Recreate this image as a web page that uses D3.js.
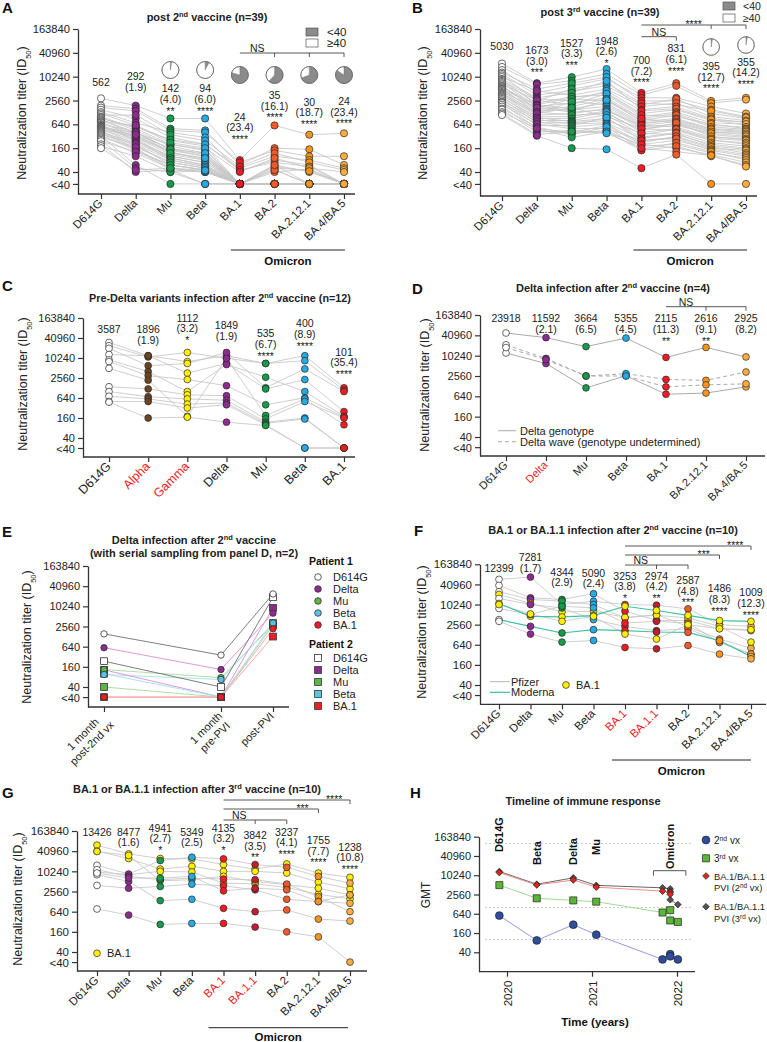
<!DOCTYPE html>
<html><head><meta charset="utf-8">
<script src="https://cdn.jsdelivr.net/npm/d3@7/dist/d3.min.js"></script>
<style>html,body{margin:0;padding:0;background:#fff;}</style>
</head><body>
<script>
// ======================= DATA =======================
const LOD = 20;   // "<40" (below detection) plotted at this level
const L = LOD;

// ---- A: post 2nd vaccine (n=39) ----
const aCats = ['D614G','Delta','Mu','Beta','BA.1','BA.2','BA.2.12.1','BA.4/BA.5'];
const aD614G = [2900,1900,1700,1500,1300,1200,1100,1000,950,900,850,800,760,720,700,650,620,600,580,560,540,520,500,480,460,440,420,400,380,360,340,320,300,280,260,240,200,180,160];
const aDelta = [1900,1600,1400,900,700,600,1100,500,450,550,400,380,600,300,350,420,250,320,280,300,260,400,200,240,350,180,160,220,150,200,140,60,170,120,50,130,40,100,45];
const aMu = [900,500,450,300,400,250,350,200,180,260,150,200,220,130,160,120,100,140,90,110,80,150,60,100,120,70,50,90,45,80,60,L,70,50,40,60,45,40,50];
const aBeta = [900,450,400,200,300,180,250,150,120,200,100,140,160,80,110,90,70,100,60,80,55,120,45,70,90,50,40,60,L,55,45,L,50,40,L,45,40,42,44];
const aBA1 = [80,60,70,50,42,L,55,L,L,45,L,L,40,L,L,L,L,L,L,L,L,L,L,L,L,L,L,L,L,L,L,L,L,L,L,L,L,L,L];
const aBA2 = [600,160,140,100,80,60,120,50,45,70,40,L,90,L,L,55,L,L,45,L,L,60,L,L,L,L,L,L,L,L,L,L,L,L,L,L,L,L,L];
const aBA2121 = [350,150,100,80,60,40,70,45,L,55,48,L,50,L,L,42,L,L,L,L,L,L,L,L,L,L,L,L,L,L,L,L,L,L,L,L,L,L,L];
const aBA45 = [380,60,100,50,L,L,45,L,L,L,L,L,40,L,L,L,L,L,L,L,L,L,L,L,L,L,L,L,L,L,L,L,L,L,L,L,L,L,L];
const aGMT = [562,292,142,94,24,35,30,24];
const aFold = ['','1.9','4.0','6.0','23.4','16.1','18.7','23.4'];
const aStars = ['','','**','****','****','****','****','****'];

// ---- B: post 3rd vaccine (n=39) ----
const bCats = aCats;
const bD614G = [22000,18000,15000,13000,12000,11000,10000,9000,8500,8000,7500,7000,6500,6000,5800,5500,5200,5000,4800,4500,4200,4000,3800,3600,3400,3200,3000,2800,2600,2400,2300,2200,2000,1800,1600,1500,1300,1200,1100];
const bDelta = [7000,6500,4000,5000,3500,2500,4500,3000,2000,2800,2200,1800,2600,1600,1500,2000,1200,1900,1400,1100,1700,1000,1300,900,1200,800,950,700,850,600,750,500,650,450,550,400,500,350,330];
const bMu = [10000,8000,6000,7000,4500,5000,3500,4000,3000,2500,3200,2200,2000,2800,1800,1600,2400,1400,1500,1200,1300,1000,1100,900,1700,800,750,700,650,600,550,400,500,380,350,450,300,420,160];
const bBeta = [16000,12000,9000,10000,6000,7000,5000,8000,4000,4500,3500,3000,3800,2500,2800,2200,2000,2600,1800,1600,1500,1400,1200,1300,1000,1100,900,800,700,950,650,600,500,450,550,400,420,380,150];
const bBA1 = [4000,3500,3000,2500,2000,2200,1800,1500,1200,1400,1000,900,1100,800,750,700,650,900,600,550,500,600,450,400,500,350,300,380,280,250,220,200,250,180,150,200,140,160,50];
const bBA2 = [7000,6000,3000,2500,2800,2000,2200,1800,1500,1600,1300,1200,1000,1100,900,800,850,700,750,650,600,550,700,500,450,480,400,350,380,300,320,250,280,200,220,160,180,130,110];
const bBA2121 = [2500,2200,1800,1500,1200,1400,1000,900,800,850,700,600,650,550,500,450,480,400,420,350,380,300,320,280,250,260,220,200,180,160,170,150,140,120,130,110,100,105,L];
const bBA45 = [3000,2700,1200,1000,900,950,800,700,750,600,650,550,500,480,450,400,420,380,350,300,320,280,260,250,220,200,180,160,150,140,120,110,100,90,80,70,60,55,L];
const bGMT = [5030,1673,1527,1948,700,831,395,355];
const bFold = ['','3.0','3.3','2.6','7.2','6.1','12.7','14.2'];
const bStars = ['','***','***','*','****','****','****','****'];

// ---- C: Pre-Delta variants infection after 2nd vaccine (n=12) ----
const cCats = ['D614G','Alpha','Gamma','Delta','Mu','Beta','BA.1'];
const cD614G = [30000,24000,20000,13000,9000,8000,5000,1400,1000,720,500,480];
const cAlpha = [12000,11000,6000,12000,4000,3000,2200,1200,700,600,500,160];
const cGamma = [8000,15000,7000,3600,1000,2300,180,800,600,420,320,170];
const cDelta = [12000,10000,15000,7000,6500,1500,10000,750,550,450,400,120];
const cMu = [7000,7000,1300,1200,2700,400,190,150,120,110,100,95];
const cBeta = [12000,8500,4800,2300,1000,650,600,500,160,150,L,L];
const cBA1 = [1300,1100,1000,250,180,170,100,160,L,L,L,L];
const cGMT = [3587,1896,1112,1849,535,400,101];
const cFold = ['','1.9','3.2','1.9','6.7','8.9','35.4'];
const cStars = ['','','*','','****','****','****'];

// ---- D: Delta infection after 2nd vaccine (n=4) ----
const dCats = ['D614G','Delta','Mu','Beta','BA.1','BA.2.12.1','BA.4/BA.5'];
const dD614G = [48000,12300,21400,17800];
const dDelta = [35000,6000,8500,7800];
const dMu = [19000,1140,2560,2560];
const dBeta = [34000,2600,3000,2560];
const dBA1 = [9100,740,2030,1220];
const dBA2121 = [18000,800,1900,1400];
const dBA45 = [9400,1220,3360,1500];
const dGroup = ['genotype','genotype','wave','wave'];
const dGMT = [23918,11592,3664,5355,2115,2616,2925];
const dFold = ['','2.1','6.5','4.5','11.3','9.1','8.2'];
const dStars = ['','','','','**','**',''];

// ---- E: serial sampling (n=2) ----
const eLabels = [['1 month','post-2nd vx'],['1 month','pre-PVI'],['post-PVI']];
const eTime = [0, 9, 13];
const eVariants = ['D614G','Delta','Mu','Beta','BA.1'];
const e1D614G = [1540,358,24000], e1Delta = [597,133,6400], e1Mu = [133,76,2860], e1Beta = [94,67,3250], e1BA1 = [L,L,2180];
const e2D614G = [236,40,19100], e2Delta = [130,L,9160], e2Mu = [40,L,2800], e2Beta = [100,L,3250], e2BA1 = [L,L,1280];

// ---- F: BA.1 or BA.1.1 infection after 2nd vaccine (n=10) ----
const fCats = ['D614G','Delta','Mu','Beta','BA.1','BA.1.1','BA.2','BA.2.12.1','BA.4/BA.5'];
const fD614G = [57900,38200,24700,20480,15500,11000,7800,3620,3220,10240];
const fDelta = [68000,16300,14500,11000,10240,4550,5120,2280,1340,5350];
const fMu = [10240,14500,12900,6150,8100,4350,9100,1440,770,3220];
const fBeta = [12900,21500,10240,6450,3620,4780,8100,1810,860,4550];
const fBA1 = [10240,6450,4060,4250,2280,9100,2870,1690,530,1340];
const fBA11 = [9800,3450,5120,4880,1690,6800,3220,1540,485,950];
const fBA2 = [7600,3380,2230,4060,1940,4880,2870,1500,610,2560];
const fBA2121 = [2560,1940,950,2280,806,3380,750,845,336,1940];
const fBA45 = [2280,1690,508,770,336,3220,336,285,243,1810];
const fVaccine = ['Pfizer','Pfizer','Pfizer','Pfizer','Pfizer','Moderna','Pfizer','Moderna','Pfizer','Pfizer'];
const fInfection = ['BA.1.1','BA.1.1','BA.1.1','BA.1','BA.1.1','BA.1','BA.1.1','BA.1.1','BA.1.1','BA.1'];
const fGMT = [12399,7281,4344,5090,3253,2974,2587,1486,1009];
const fFold = ['','1.7','2.9','2.4','3.8','4.2','4.8','8.3','12.3'];
const fStars = ['','','','','*','**','***','****','****'];

// ---- G: BA.1 or BA.1.1 infection after 3rd vaccine (n=10) ----
const gCats = fCats;
const gD614G = [62000,40960,9800,40000,15500,11500,3880,770,8100,9100];
const gDelta = [34000,24700,8100,30400,8500,7240,3220,508,5120,6450];
const gMu = [24700,12000,10240,5350,21500,5750,3620,266,1370,6450];
const gBeta = [24100,14500,9800,5750,27000,6450,4250,285,1500,7240];
const gBA1 = [16300,10240,4550,7240,24100,6000,3800,285,806,2680];
const gBA11 = [12000,10240,4350,5120,16300,5750,2870,222,640,3220];
const gBA2 = [17000,9100,3380,4060,13500,4250,1500,160,720,2870];
const gBA2121 = [9100,4880,2120,3220,7240,1810,1280,113,385,1280];
const gBA45 = [6800,3080,1540,2030,4550,640,2030,L,336,1140];
const gInfection = ['BA.1','BA.1','BA.1','BA.1','BA.1.1','BA.1.1','BA.1.1','BA.1.1','BA.1.1','BA.1.1'];
const gGMT = [13426,8477,4941,5349,4135,3842,3237,1755,1238];
const gFold = ['','1.6','2.7','2.5','3.2','3.5','4.1','7.7','10.8'];
const gStars = ['','','*','','*','**','****','****','****'];

// ---- H: timeline (GMTs of panels A, B, F, G placed at variant emergence dates) ----
const hVariants = ['D614G','Beta','Delta','Mu','BA.1','BA.1.1','BA.2','BA.2.12.1','BA.4/BA.5'];
const hDates = [2019.91,2020.35,2020.78,2021.05,2021.83,2021.92,2021.92,2021.92,2022.01];
const hRedShown = ['D614G','Beta','Delta','Mu','BA.1','BA.1.1','BA.2'];
const hYears = [2020,2021,2022];
const hGrid = [100,1000,100000];
const hLabelText = ['D614G','Beta','Delta','Mu','Omicron'];
const hLabelVariant = ['D614G','Beta','Delta','Mu','BA.2'];

// ======================= STYLE / LAYOUT =======================
const FONT = "'Liberation Sans', Arial, Helvetica, sans-serif";
const colorMap = {'D614G':'#ffffff','Alpha':'#6e4522','Gamma':'#fff000','Delta':'#8e2b8f','Mu':'#179a4b','Beta':'#27a9e1',
  'BA.1':'#ee1d23','BA.1.1':'#c01f2f','BA.2':'#f15a29','BA.2.12.1':'#f7941d','BA.4/BA.5':'#fbad3f'};
const YELLOW = '#ffef00';
const RED_LABEL = '#ee1d23';
const ticksAll = [163840,40960,10240,2560,640,160,40,LOD];

const layA = {yAxisX:78, xEnd:355, top:29, y40:172, bottom:194, xFirst:101, xLast:344, tickFs:11.2, xFs:11.5, r:3.6,
  labelY:[81.7,76,88.3,88.3,116.7,95,101.7,101], pieY:[70,70,70,70,75,75,75,75], pieR:8.5,
  title:[207,21], letter:[2,13], yTitle:[22,113], omi:{y:250,padL:9,padR:1,textY:265}};
const layB = {yAxisX:480, xEnd:757, top:29, y40:172, bottom:196, xFirst:502, xLast:746, tickFs:11.2, xFs:11.5, r:3.6,
  labelY:[45.7,50,42.7,40.7,60,48.3,66,61.7], pieY:[45,45,45,45,45,45,47,45], pieR:8.3,
  title:[600,16], letter:[412,13], yTitle:[423,113], omi:{y:250,padL:8,padR:1,textY:265}};
const layC = {yAxisX:83, xEnd:355, top:318, y40:438, bottom:457, xFirst:109, xLast:344, tickFs:11, xFs:12.5, r:3.4,
  labelY:[329.3,329.3,317.7,325,333.3,323.3,351.7], title:[220,302], letter:[2,291], yTitle:[23,384]};
const layD = {yAxisX:480, xEnd:765, top:315, y40:437, bottom:456, xFirst:506, xLast:746, tickFs:11, xFs:11, r:3.4,
  labelY:[318.3,318.3,318.3,318.3,318.3,318.3,318.3], title:[613,292], letter:[412,294], yTitle:[425,385]};
const layE = {yAxisX:88, xEnd:289, top:566, y40:687, bottom:707, xFirst:104, xLast:273, tickFs:11, xFs:11, r:3.2,
  title:[194,544], letter:[2,537], yTitle:[27,637]};
const layF = {yAxisX:480, xEnd:766, top:564.3, y40:685, bottom:704.3, xFirst:499, xLast:751, tickFs:11.5, xFs:11.5, r:3.4,
  labelY:[568.3,557.3,571.7,572.7,575.7,575.7,580,588.3,592.3], title:[613,534], letter:[414,536], yTitle:[422,632],
  omi:{y:760,padL:13,padR:0,textY:775}};
const layG = {yAxisX:77, xEnd:367, top:831, y40:952, bottom:971, xFirst:97, xLast:350, tickFs:11.5, xFs:11.5, r:3.4,
  labelY:[831.7,831.7,827.7,831.7,827.7,835,831.7,840,846.7], title:[197,793], letter:[2,798], yTitle:[18,899],
  omi:{y:1027.7,padL:15,padR:-2,textY:1041}};
const layH = {yAxisX:479, xEnd:695, top:836.7, y40:952.3, bottom:971.7, x2020:507, x2022:677, gridX1:485, gridX2:693,
  title:[583,805], letter:[410,798], labelBottom:[852,865,865,855,869], legFs:9.4};

// ======================= HELPERS =======================
const svg = d3.select('body').append('svg').attr('width',767).attr('height',1042)
  .attr('font-family',FONT).style('background','#fff');

function yScaleFor(Lo){
  const s = d3.scaleLog().domain([40,163840]).range([Lo.y40,Lo.top]);
  return d3.scaleLog().domain([s.invert(Lo.bottom),163840]).range([Lo.bottom,Lo.top]);
}
function drawYAxis(g,y,x0,ticks,fs){
  const a = g.append('g').attr('transform',`translate(${x0},0)`)
    .call(d3.axisLeft(y).tickValues(ticks).tickFormat(d=>d===LOD?'<40':String(d)).tickSize(5).tickSizeOuter(0).tickPadding(3));
  a.attr('font-family',FONT).attr('font-size',fs);
  a.select('.domain').attr('stroke','#333').attr('stroke-width',1.3);
  a.selectAll('.tick line').attr('stroke','#333').attr('stroke-width',1.2);
  a.selectAll('.tick text').attr('fill','#222');
  a.selectAll('.tick text').filter(d=>d===LOD).attr('transform','translate(0,1.2)');
  return a;
}
function richText(g,x,y,parts,fs,bold,anchor){
  const t = g.append('text').attr('x',x).attr('y',y).attr('text-anchor',anchor||'middle')
    .attr('font-size',fs).attr('font-weight',bold?'bold':null).attr('fill','#222');
  parts.forEach(p=>{
    const ts = t.append('tspan').text(p[0]);
    if(p[1]==='sup') ts.attr('baseline-shift','super').attr('font-size',fs*0.68);
    if(p[1]==='sub') ts.attr('baseline-shift','sub').attr('font-size',fs*0.62);
  });
  return t;
}
function yTitle(g,pos,label,fs){
  const t = g.append('text').attr('transform',`translate(${pos[0]},${pos[1]}) rotate(-90)`)
    .attr('text-anchor','middle').attr('dy','0.35em').attr('font-size',fs).attr('fill','#222');
  if(label){ t.text(label); return; }
  t.append('tspan').text('Neutralization titer (ID');
  t.append('tspan').attr('baseline-shift','sub').attr('font-size',fs*0.6).text('50');
  t.append('tspan').text(')');
}
function letter(g,pos,s){
  g.append('text').attr('x',pos[0]).attr('y',pos[1]).attr('font-size',15).attr('font-weight','bold').attr('fill','#111').text(s);
}
function colLabels(g,x,cats,gmt,fold,stars,labelY){
  cats.forEach((c,i)=>{
    const cx = x(c), b = labelY[i]+3.8, lh = 10.8;
    const t = (yy,s)=>g.append('text').attr('x',cx).attr('y',yy).attr('text-anchor','middle')
      .attr('font-size',10.5).attr('fill','#222').text(s);
    t(b,String(gmt[i]));
    let k = 1;
    if(fold[i]){ t(b+lh,`(${fold[i]})`); k = 2; }
    if(stars[i]) t(b+k*lh+1,stars[i]);
  });
}
function pies(g,x,cats,cols,pieY,r){
  const arc = d3.arc().innerRadius(0).outerRadius(r);
  cats.forEach((c,j)=>{
    const n40 = cols[j].filter(v=>v===LOD).length;
    if(!n40) return;
    const data = d3.pie().sort(null)([n40, cols[j].length-n40]);
    const pg = g.append('g').attr('transform',`translate(${x(c)},${pieY[j]})`);
    pg.selectAll('path').data(data).join('path').attr('d',arc)
      .attr('fill',(d,i)=>i?'#ffffff':'#8b8b8b').attr('stroke','#777').attr('stroke-width',0.5);
    pg.append('circle').attr('r',r).attr('fill','none').attr('stroke','#666').attr('stroke-width',0.8);
  });
}
function bracket(g,x,from,tos,y,label,between){
  const x1 = x(from), x2 = x(tos[tos.length-1]);
  g.append('line').attr('x1',x1).attr('x2',x2).attr('y1',y).attr('y2',y).attr('stroke','#444').attr('stroke-width',0.9);
  tos.forEach(t=>g.append('line').attr('x1',x(t)).attr('x2',x(t)).attr('y1',y).attr('y2',y+4).attr('stroke','#444').attr('stroke-width',0.9));
  const lx = (x(between[0])+x(between[1]))/2;
  const isStar = label.indexOf('*')===0;
  g.append('text').attr('x',lx).attr('y',isStar?y+3:y-1).attr('text-anchor','middle')
    .attr('font-size',10.5).attr('fill','#222').text(label);
}
function omicron(g,x,Lo,first,last){
  const o = Lo.omi;
  const x1 = x(first)-o.padL, x2 = x(last)+o.padR;
  g.append('line').attr('x1',x1).attr('x2',x2).attr('y1',o.y).attr('y2',o.y).attr('stroke','#222').attr('stroke-width',1);
  g.append('text').attr('x',(x1+x2)/2).attr('y',o.textY).attr('text-anchor','middle').attr('font-size',11.5)
    .attr('font-weight','bold').attr('fill','#111').text('Omicron');
}

function panel(o){
  const g = svg.append('g');
  const Lo = o.layout;
  const y = yScaleFor(Lo);
  const x = d3.scalePoint().domain(o.cats).range([Lo.xFirst,Lo.xLast]);
  const n = o.cols[0].length;
  const rows = d3.range(n).map(i=>o.cols.map(c=>c[i]));
  const line = d3.line().x((d,j)=>x(o.cats[j])).y(d=>y(d));
  const lg = g.append('g');
  const order = o.lineOrder ? o.lineOrder(rows) : d3.range(n);
  order.forEach(i=>{
    lg.append('path').attr('d',line(rows[i])).attr('fill','none')
      .attr('stroke',o.lineColor?o.lineColor(i):'#c6c6c6')
      .attr('stroke-width',o.lineWidth?o.lineWidth(i):0.85)
      .attr('stroke-dasharray',o.lineDash?o.lineDash(i):null);
  });
  drawYAxis(g,y,Lo.yAxisX,ticksAll,Lo.tickFs);
  const xa = g.append('g').attr('transform',`translate(0,${Lo.bottom})`)
    .call(d3.axisBottom(x).tickSize(5).tickSizeOuter(0));
  xa.attr('font-family',FONT);
  xa.select('.domain').remove();
  xa.append('line').attr('x1',Lo.yAxisX).attr('x2',Lo.xEnd).attr('stroke','#333').attr('stroke-width',1.3);
  xa.selectAll('.tick line').attr('stroke','#333').attr('stroke-width',1.2);
  xa.selectAll('.tick text').attr('y',null).attr('dy','0.35em').attr('text-anchor','end')
    .attr('transform','translate(-1,7) rotate(-45)').attr('font-size',Lo.xFs)
    .attr('fill',d=>(o.redCats||[]).includes(d)?RED_LABEL:'#222');
  o.cats.forEach((c,j)=>{
    const dg = g.append('g');
    o.cols[j].forEach((v,i)=>{
      dg.append('circle').attr('cx',x(c)).attr('cy',y(v)).attr('r',Lo.r)
        .attr('fill',o.dotColor?o.dotColor(c,i):colorMap[c]).attr('stroke','#2a2a2a').attr('stroke-width',0.7);
    });
  });
  return {g,x,y};
}

// ======================= PANEL A =======================
const aCols = [aD614G,aDelta,aMu,aBeta,aBA1,aBA2,aBA2121,aBA45];
const A = panel({cats:aCats, cols:aCols, layout:layA});
colLabels(A.g,A.x,aCats,aGMT,aFold,aStars,layA.labelY);
pies(A.g,A.x,aCats,aCols,layA.pieY,layA.pieR);
bracket(A.g,A.x,'BA.1',['BA.2','BA.2.12.1','BA.4/BA.5'],53,'NS',['BA.1','BA.2']);
omicron(A.g,A.x,layA,'BA.1','BA.4/BA.5');
letter(A.g,layA.letter,'A');
richText(A.g,layA.title[0],layA.title[1],[['post 2'],['nd','sup'],[' vaccine (n=39)']],11,true);
yTitle(A.g,layA.yTitle,null,12.5);
A.g.append('rect').attr('x',306).attr('y',28).attr('width',12).attr('height',8).attr('fill','#8b8b8b').attr('stroke','#555').attr('stroke-width',0.7);
A.g.append('rect').attr('x',306).attr('y',39).attr('width',12).attr('height',8).attr('fill','#fff').attr('stroke','#555').attr('stroke-width',0.7);
A.g.append('text').attr('x',327).attr('y',36).attr('font-size',11.5).attr('fill','#222').text('<40');
A.g.append('text').attr('x',327).attr('y',47).attr('font-size',11.5).attr('fill','#222').text('≥40');

// ======================= PANEL B =======================
const bCols = [bD614G,bDelta,bMu,bBeta,bBA1,bBA2,bBA2121,bBA45];
const B = panel({cats:bCats, cols:bCols, layout:layB});
colLabels(B.g,B.x,bCats,bGMT,bFold,bStars,layB.labelY);
pies(B.g,B.x,bCats,bCols,layB.pieY,layB.pieR);
bracket(B.g,B.x,'BA.1',['BA.2.12.1','BA.4/BA.5'],25,'****',['BA.2','BA.2.12.1']);
bracket(B.g,B.x,'BA.1',['BA.2'],36.7,'NS',['BA.1','BA.2']);
omicron(B.g,B.x,layB,'BA.1','BA.4/BA.5');
letter(B.g,layB.letter,'B');
richText(B.g,layB.title[0],layB.title[1],[['post 3'],['rd','sup'],[' vaccine (n=39)']],11,true);
yTitle(B.g,layB.yTitle,null,12.5);
B.g.append('rect').attr('x',723).attr('y',2).attr('width',12).attr('height',8).attr('fill','#8b8b8b').attr('stroke','#555').attr('stroke-width',0.7);
B.g.append('rect').attr('x',723).attr('y',14).attr('width',12).attr('height',8).attr('fill','#fff').attr('stroke','#555').attr('stroke-width',0.7);
B.g.append('text').attr('x',743).attr('y',10).attr('font-size',10.5).attr('fill','#222').text('<40');
B.g.append('text').attr('x',743).attr('y',22).attr('font-size',10.5).attr('fill','#222').text('≥40');

// ======================= PANEL C =======================
const C = panel({cats:cCats, cols:[cD614G,cAlpha,cGamma,cDelta,cMu,cBeta,cBA1], layout:layC, redCats:['Alpha','Gamma']});
colLabels(C.g,C.x,cCats,cGMT,cFold,cStars,layC.labelY);
letter(C.g,layC.letter,'C');
richText(C.g,layC.title[0],layC.title[1],[['Pre-Delta variants infection after 2'],['nd','sup'],[' vaccine (n=12)']],10.8,true);
yTitle(C.g,layC.yTitle,null,12.5);

// ======================= PANEL D =======================
const D = panel({cats:dCats, cols:[dD614G,dDelta,dMu,dBeta,dBA1,dBA2121,dBA45], layout:layD, redCats:['Delta'],
  lineColor:()=>'#ababab', lineWidth:()=>1, lineDash:i=>dGroup[i]==='wave'?'4,3':null});
colLabels(D.g,D.x,dCats,dGMT,dFold,dStars,layD.labelY);
bracket(D.g,D.x,'BA.1',['BA.2.12.1','BA.4/BA.5'],306.7,'NS',['BA.1','BA.2.12.1']);
letter(D.g,layD.letter,'D');
richText(D.g,layD.title[0],layD.title[1],[['Delta infection after 2'],['nd','sup'],[' vaccine (n=4)']],11,true);
yTitle(D.g,layD.yTitle,null,12.5);
D.g.append('line').attr('x1',498).attr('x2',516).attr('y1',430.7).attr('y2',430.7).attr('stroke','#ababab').attr('stroke-width',1);
D.g.append('line').attr('x1',498).attr('x2',516).attr('y1',441.7).attr('y2',441.7).attr('stroke','#ababab').attr('stroke-width',1).attr('stroke-dasharray','4,3');
D.g.append('text').attr('x',520).attr('y',434.5).attr('font-size',11).attr('fill','#222').text('Delta genotype');
D.g.append('text').attr('x',520).attr('y',445.5).attr('font-size',11).attr('fill','#222').text('Delta wave (genotype undetermined)');

// ======================= PANEL E =======================
(function(){
  const g = svg.append('g'); const Lo = layE;
  const y = yScaleFor(Lo);
  const x = d3.scaleLinear().domain([eTime[0],eTime[eTime.length-1]]).range([Lo.xFirst,Lo.xLast]);
  const markerFill = {'D614G':'#ffffff','Delta':'#8e2b8f','Mu':'#5cb548','Beta':'#5bc4e0','BA.1':'#ee1d23'};
  const lineCol = {'D614G':'#707070','Delta':'#d68fd6','Mu':'#a6db9a','Beta':'#a3dcef','BA.1':'#f4a09c'};
  const p1 = [e1D614G,e1Delta,e1Mu,e1Beta,e1BA1], p2 = [e2D614G,e2Delta,e2Mu,e2Beta,e2BA1];
  const line = d3.line().x((d,i)=>x(eTime[i])).y(d=>y(d));
  [p1,p2].forEach(P=>P.forEach((vals,k)=>{
    g.append('path').attr('d',line(vals)).attr('fill','none').attr('stroke',lineCol[eVariants[k]]).attr('stroke-width',0.9);
  }));
  drawYAxis(g,y,Lo.yAxisX,ticksAll,Lo.tickFs);
  const xa = g.append('g').attr('transform',`translate(0,${Lo.bottom})`)
    .call(d3.axisBottom(x).tickValues(eTime).tickFormat(()=> '').tickSize(5).tickSizeOuter(0));
  xa.select('.domain').remove();
  xa.append('line').attr('x1',Lo.yAxisX).attr('x2',Lo.xEnd).attr('stroke','#333').attr('stroke-width',1.3);
  xa.selectAll('.tick line').attr('stroke','#333').attr('stroke-width',1.2);
  eLabels.forEach((lines,i)=>{
    const lg = xa.append('g').attr('transform',`translate(${x(eTime[i])-1},7) rotate(-45)`);
    const texts = lines.map((s,k)=>lg.append('text').attr('text-anchor','end').attr('dy',(0.35+k*1.15)+'em')
      .attr('font-size',Lo.xFs).attr('font-family',FONT).attr('fill','#222').text(s));
    const ws = texts.map(t=>t.node().getComputedTextLength());
    const W = d3.max(ws);
    texts.forEach((t,k)=>t.attr('x',-(W-ws[k])/2));
  });
  p2.forEach((vals,k)=>vals.forEach((v,i)=>{
    g.append('rect').attr('x',x(eTime[i])-3.4).attr('y',y(v)-3.4).attr('width',6.8).attr('height',6.8)
      .attr('fill',markerFill[eVariants[k]]).attr('stroke','#333').attr('stroke-width',0.8);
  }));
  p1.forEach((vals,k)=>vals.forEach((v,i)=>{
    g.append('circle').attr('cx',x(eTime[i])).attr('cy',y(v)).attr('r',Lo.r)
      .attr('fill',markerFill[eVariants[k]]).attr('stroke','#333').attr('stroke-width',0.8);
  }));
  letter(g,Lo.letter,'E');
  richText(g,Lo.title[0],Lo.title[1],[['Delta infection after 2'],['nd','sup'],[' vaccine']],11,true);
  richText(g,Lo.title[0],Lo.title[1]+13,[['(with serial sampling from panel D, n=2)']],11,true);
  yTitle(g,Lo.yTitle,null,12.5);
  const lgY1 = [577,589,601,613,625], lgY2 = [658,670,682,694,706];
  g.append('text').attr('x',309).attr('y',565).attr('font-size',10.5).attr('font-weight','bold').attr('fill','#111').text('Patient 1');
  g.append('text').attr('x',309).attr('y',648).attr('font-size',10.5).attr('font-weight','bold').attr('fill','#111').text('Patient 2');
  eVariants.forEach((v,k)=>{
    g.append('circle').attr('cx',318).attr('cy',lgY1[k]).attr('r',3.3).attr('fill',markerFill[v]).attr('stroke','#333').attr('stroke-width',0.8);
    g.append('text').attr('x',333).attr('y',lgY1[k]+4).attr('font-size',11).attr('fill','#222').text(v);
    g.append('rect').attr('x',314.6).attr('y',lgY2[k]-3.4).attr('width',6.8).attr('height',6.8).attr('fill',markerFill[v]).attr('stroke','#333').attr('stroke-width',0.8);
    g.append('text').attr('x',333).attr('y',lgY2[k]+4).attr('font-size',11).attr('fill','#222').text(v);
  });
})();

// ======================= PANEL F =======================
const F = panel({cats:fCats, cols:[fD614G,fDelta,fMu,fBeta,fBA1,fBA11,fBA2,fBA2121,fBA45], layout:layF, redCats:['BA.1','BA.1.1'],
  lineColor:i=>fVaccine[i]==='Moderna'?'#3fc2a2':'#c6c6c6', lineWidth:i=>fVaccine[i]==='Moderna'?1.2:0.85,
  lineOrder:rows=>d3.range(rows.length).sort((a,b)=>(fVaccine[a]==='Moderna')-(fVaccine[b]==='Moderna')),
  dotColor:(c,i)=>fInfection[i]==='BA.1'?YELLOW:colorMap[c]});
colLabels(F.g,F.x,fCats,fGMT,fFold,fStars,layF.labelY);
bracket(F.g,F.x,'BA.1',['BA.4/BA.5'],546,'****',['BA.2.12.1','BA.4/BA.5']);
bracket(F.g,F.x,'BA.1',['BA.2.12.1'],555,'***',['BA.2','BA.2.12.1']);
bracket(F.g,F.x,'BA.1',['BA.1.1','BA.2'],565,'NS',['BA.1','BA.1.1']);
omicron(F.g,F.x,layF,'BA.1','BA.4/BA.5');
letter(F.g,layF.letter,'F');
richText(F.g,layF.title[0],layF.title[1],[['BA.1 or BA.1.1 infection after 2'],['nd','sup'],[' vaccine (n=10)']],11,true);
yTitle(F.g,layF.yTitle,null,12.5);
F.g.append('line').attr('x1',490).attr('x2',510).attr('y1',681.7).attr('y2',681.7).attr('stroke','#b5b5b5').attr('stroke-width',1);
F.g.append('line').attr('x1',490).attr('x2',510).attr('y1',692.3).attr('y2',692.3).attr('stroke','#3fc2a2').attr('stroke-width',1.2);
F.g.append('text').attr('x',511).attr('y',685.5).attr('font-size',11).attr('fill','#222').text('Pfizer');
F.g.append('text').attr('x',511).attr('y',696.2).attr('font-size',11).attr('fill','#222').text('Moderna');
F.g.append('circle').attr('cx',566).attr('cy',685).attr('r',3.4).attr('fill',YELLOW).attr('stroke','#2a2a2a').attr('stroke-width',0.7);
F.g.append('text').attr('x',576).attr('y',689).attr('font-size',11).attr('fill','#222').text('BA.1');

// ======================= PANEL G =======================
const G = panel({cats:gCats, cols:[gD614G,gDelta,gMu,gBeta,gBA1,gBA11,gBA2,gBA2121,gBA45], layout:layG, redCats:['BA.1','BA.1.1'],
  dotColor:(c,i)=>gInfection[i]==='BA.1'?YELLOW:colorMap[c]});
colLabels(G.g,G.x,gCats,gGMT,gFold,gStars,layG.labelY);
bracket(G.g,G.x,'BA.1',['BA.4/BA.5'],800,'****',['BA.2.12.1','BA.4/BA.5']);
bracket(G.g,G.x,'BA.1',['BA.2.12.1'],809,'***',['BA.2','BA.2.12.1']);
bracket(G.g,G.x,'BA.1',['BA.1.1','BA.2'],820,'NS',['BA.1','BA.1.1']);
omicron(G.g,G.x,layG,'BA.1','BA.4/BA.5');
letter(G.g,layG.letter,'G');
richText(G.g,layG.title[0],layG.title[1],[['BA.1 or BA.1.1 infection after 3'],['rd','sup'],[' vaccine (n=10)']],11,true);
yTitle(G.g,layG.yTitle,null,12.5);
G.g.append('circle').attr('cx',97).attr('cy',953.3).attr('r',3.4).attr('fill',YELLOW).attr('stroke','#2a2a2a').attr('stroke-width',0.7);
G.g.append('text').attr('x',107).attr('y',957.3).attr('font-size',11).attr('fill','#222').text('BA.1');

// ======================= PANEL H =======================
(function(){
  const g = svg.append('g'); const Lo = layH;
  const y = yScaleFor(Lo);
  const x = d3.scaleLinear().domain([hYears[0],hYears[hYears.length-1]]).range([Lo.x2020,Lo.x2022]);
  const dateOf = v=>hDates[hVariants.indexOf(v)];
  hGrid.forEach(v=>g.append('line').attr('x1',Lo.gridX1).attr('x2',Lo.gridX2).attr('y1',y(v)).attr('y2',y(v))
    .attr('stroke','#bdbdbd').attr('stroke-width',0.8).attr('stroke-dasharray','2,2'));
  drawYAxis(g,y,Lo.yAxisX,[163840,40960,10240,2560,640,160,40],11);
  const xa = g.append('g').attr('transform',`translate(0,${Lo.bottom})`)
    .call(d3.axisBottom(x).tickValues(hYears).tickFormat(d3.format('d')).tickSize(5).tickSizeOuter(0));
  xa.attr('font-family',FONT);
  xa.select('.domain').remove();
  xa.append('line').attr('x1',Lo.yAxisX).attr('x2',Lo.xEnd).attr('stroke','#333').attr('stroke-width',1.3);
  xa.selectAll('.tick line').attr('stroke','#333').attr('stroke-width',1.2);
  xa.selectAll('.tick text').attr('y',null).attr('dy','0.35em').attr('text-anchor','end')
    .attr('transform','translate(0,9) rotate(-90)').attr('font-size',11.5).attr('fill','#222');
  const mk = (cats,vals,keep)=>cats.map((c,i)=>({c,v:vals[i],d:dateOf(c),i}))
    .filter(p=>!keep||keep.includes(p.c)).sort((a,b)=>a.d-b.d||a.i-b.i);
  const series = [
    {pts:mk(fCats,gGMT), shape:'diamond', fill:'#555555', line:'#555555'},
    {pts:mk(bCats,bGMT), shape:'square', fill:'#5ab636', line:'#97d883'},
    {pts:mk(aCats,aGMT), shape:'circle', fill:'#2f4c9f', line:'#8b8be0'},
    {pts:mk(fCats,fGMT,hRedShown), shape:'diamond', fill:'#e3241b', line:'#f08080'}
  ];
  const line = d3.line().x(p=>x(p.d)).y(p=>y(p.v));
  series.forEach(s=>g.append('path').attr('d',line(s.pts)).attr('fill','none').attr('stroke',s.line).attr('stroke-width',0.9));
  const sym = (s)=> s==='circle'? d3.symbol().type(d3.symbolCircle).size(48)() :
                    s==='square'? d3.symbol().type(d3.symbolSquare).size(50)() :
                                  d3.symbol().type(d3.symbolSquare).size(22)();
  const drawMark = (gg,shape,fill,cx,cy)=>gg.append('path').attr('d',sym(shape))
    .attr('transform',`translate(${cx},${cy})${shape==='diamond'?' rotate(45)':''}`)
    .attr('fill',fill).attr('stroke','#222').attr('stroke-width',0.7);
  series.forEach(s=>s.pts.forEach(p=>drawMark(g,s.shape,s.fill,x(p.d),y(p.v))));
  hLabelText.forEach((t,k)=>{
    g.append('text').attr('transform',`translate(${x(dateOf(hLabelVariant[k]))},${Lo.labelBottom[k]}) rotate(-90)`)
      .attr('dy','0.35em').attr('font-size',11).attr('font-weight','bold').attr('fill','#111').text(t);
  });
  const bx1 = x(dateOf('BA.1'))-9, bx2 = x(dateOf('BA.4/BA.5'))+8, by = 870.7;
  g.append('path').attr('d',`M${bx1},${by+5}V${by}H${bx2}V${by+5}`).attr('fill','none').attr('stroke','#444').attr('stroke-width',0.9);
  letter(g,Lo.letter,'H');
  richText(g,Lo.title[0],Lo.title[1],[['Timeline of immune response']],11,true);
  g.append('text').attr('transform','translate(426,895) rotate(-90)').attr('text-anchor','middle').attr('dy','0.35em')
    .attr('font-size',12).attr('fill','#222').text('GMT');
  g.append('text').attr('x',595).attr('y',1025.5).attr('text-anchor','middle').attr('font-size',11.5).attr('font-weight','bold').attr('fill','#111').text('Time (years)');
  const fs = Lo.legFs;
  drawMark(g,'circle','#2f4c9f',706,840);
  richText(g,714,843.5,[['2'],['nd','sup'],[' vx']],fs+0.6,false,'start');
  drawMark(g,'square','#5ab636',706,858.3);
  richText(g,714,861.8,[['3'],['rd','sup'],[' vx']],fs+0.6,false,'start');
  drawMark(g,'diamond','#e3241b',706,876);
  richText(g,714,879.5,[['BA.1/BA.1.1']],fs,false,'start');
  richText(g,714,891.2,[['PVI (2'],['nd','sup'],[' vx)']],fs,false,'start');
  drawMark(g,'diamond','#555555',706,906.7);
  richText(g,714,910.2,[['BA.1/BA.1.1']],fs,false,'start');
  richText(g,714,921.8,[['PVI (3'],['rd','sup'],[' vx)']],fs,false,'start');
})();
</script>
</body></html>
